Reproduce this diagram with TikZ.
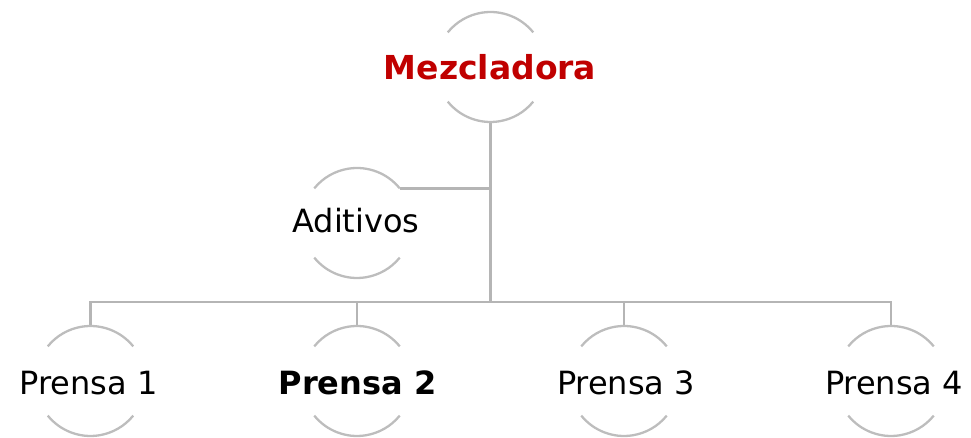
\documentclass[tikz,border=0pt]{standalone}
\usepackage{fontspec}
\setmainfont{DejaVu Sans}
\definecolor{linegray}{HTML}{B5B5B5}
\definecolor{arcgray}{HTML}{BDBDBD}
\definecolor{titlered}{HTML}{C00000}
\tikzset{
  circ/.style={circle, minimum size=110pt, inner sep=0pt, outer sep=0pt},
  conn/.style={draw=linegray, line width=2.8pt},
  arcline/.style={draw=arcgray, line width=2.3pt},
  txt/.style={anchor=base, inner sep=0pt, font=\fontsize{32}{38}\selectfont},
  boldtxt/.style={txt, font=\fontsize{32}{38}\selectfont\bfseries},
}
\newcommand{\halfarcs}[1]{%
  \draw[arcline] (#1.39) arc[start angle=39, end angle=141, radius=55pt];
  \draw[arcline] (#1.219) arc[start angle=219, end angle=321, radius=55pt];
}
\begin{document}
\begin{tikzpicture}[x=1pt, y=1pt]
\useasboundingbox (0,0) rectangle (971,438);
% circles
\node[circ] (mez) at (490.5,371) {};
\node[circ] (adi) at (357,215) {};
\node[circ] (p1) at (90.5,57) {};
\node[circ] (p2) at (357,57) {};
\node[circ] (p3) at (624,57) {};
\node[circ] (p4) at (891,57) {};
\coordinate (hub) at (490.5,136);
% connectors
\draw[conn] (mez.south) -- (hub);
\draw[conn] (adi.39) -- (adi.39 -| mez.south);
\draw[conn] (p1.north) -- (p1.north |- hub) -- (p4.north |- hub) -- (p4.north);
\draw[conn] (p2.north) -- (p2.north |- hub);
\draw[conn] (p3.north) -- (p3.north |- hub);
% arcs
\halfarcs{mez}
\halfarcs{adi}
\halfarcs{p1}
\halfarcs{p2}
\halfarcs{p3}
\halfarcs{p4}
% texts
\node[boldtxt, text=titlered, font=\fontsize{33}{40}\selectfont\bfseries] (tmez) at (490,358) {Mezcladora};
\node[txt] (tadi) at (356,205) {Aditivos};
\node[txt] (tp1) at (88.5,43) {Prensa 1};
\node[boldtxt] (tp2) at (357.5,43) {Prensa 2};
\node[txt] (tp3) at (626,43) {Prensa 3};
\node[txt] (tp4) at (894,43) {Prensa 4};
\end{tikzpicture}
\end{document}
